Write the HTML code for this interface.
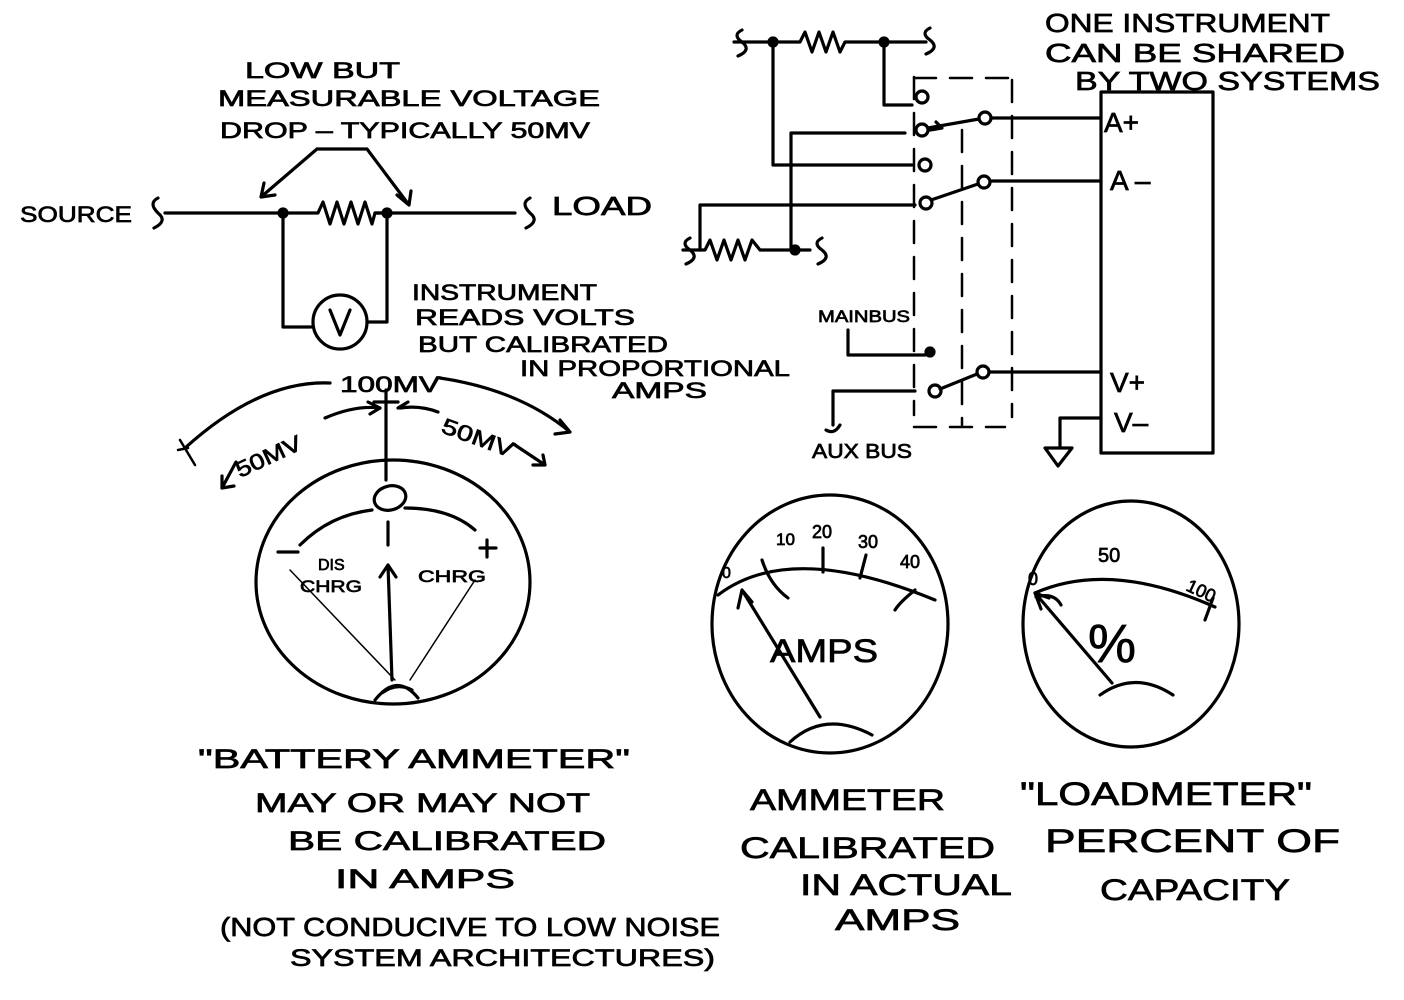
<!DOCTYPE html>
<html><head><meta charset="utf-8"><style>
html,body{margin:0;padding:0;background:#fff;width:1404px;height:1000px;overflow:hidden}
svg{display:block}
text{font-family:"Liberation Sans",sans-serif;fill:#000;stroke:#000;stroke-width:0.7}
</style></head><body>
<svg width="1404" height="1000" viewBox="0 0 1404 1000" xmlns="http://www.w3.org/2000/svg">
<g fill="none" stroke="#000" stroke-width="3.2" stroke-linecap="round" stroke-linejoin="round">
<path d="M165 213 H283 M375 213 H515"/>
<path d="M283 213 L318 213 L323 202 L330 224 L337 202 L344 224 L351 202 L358 224 L365 202 L372 224 L375 213 H387"/>
<path d="M158 198 q-10 5 0 15 q10 8 -4 15"/>
<path d="M530 198 q-10 5 0 15 q10 8 -4 15"/>
<path d="M283 213 V327 H311 M387 213 V322 H368"/>
<circle cx="340" cy="322" r="27"/>
<path d="M330 310 L340 335 L350 310"/>
<path d="M317 149 H367 L409 205 M317 149 L261 197 M261 197 l3 -14 M261 197 l14 -2 M409 205 l-12 -10 M409 205 l2 -14"/>
<circle cx="283" cy="213" r="4" fill="#000"/><circle cx="387" cy="213" r="4" fill="#000"/>

<ellipse cx="393" cy="582" rx="137" ry="122"/>
<path d="M185 448 Q260 380 330 383 M440 378 Q520 390 570 432 M560 420 l10 12 l-15 2"/>
<path d="M222 488 L236 462 M222 488 l12 -2 M222 488 l0 -12"/>
<path d="M325 418 Q355 405 380 408 M380 408 l-12 -6 M380 408 l-10 6 M400 408 Q420 405 438 412 M398 408 l10 -6"/>
<path d="M515 445 L545 465 M545 465 l-12 0 M545 465 l-2 -10"/>
<path d="M386 390 V480"/>
<path d="M374 402 H398"/>
<ellipse cx="390" cy="498" rx="16" ry="12" transform="rotate(-15 390 498)"/>
<path d="M300 545 Q330 515 372 510 M405 508 Q450 508 475 530"/>
<path d="M388 522 V545"/>
<path d="M278 552 H298 M487 540 V557 M480 548 H496"/>
<path d="M392 680 L388 565 M388 565 l-8 12 M388 565 l8 12" />
<path d="M375 700 Q397 672 418 698 M382 693 Q397 682 412 690"/>
<path d="M290 570 L395 680 M475 580 L410 680" stroke-width="1.5"/>
<path d="M180 440 L195 465 M188 448 l-10 2" stroke-width="2.5"/>

<ellipse cx="830" cy="624" rx="118" ry="129"/>
<path d="M718 595 Q790 540 935 600"/>
<path d="M762 560 Q770 585 788 598 M823 548 V572 M866 555 L860 578 M915 590 Q900 602 895 610"/>
<path d="M820 717 L742 590 M742 590 l-4 18 M742 590 l10 12"/>
<path d="M790 742 Q825 710 872 735"/>
<ellipse cx="1131" cy="624" rx="108" ry="123"/>
<path d="M1035 593 Q1110 560 1215 607 M1213 598 L1205 620"/>
<path d="M1112 683 L1035 593 M1035 593 l6 16 M1035 593 l14 5"/>
<path d="M1100 695 Q1135 670 1173 695"/>
<path d="M1036 597 q18 -5 25 8"/>

<path d="M734 42 H800 L805 32 L812 52 L819 32 L826 52 L833 32 L840 52 L845 42 H926"/>
<path d="M742 30 q-10 5 0 12 q10 8 -4 14 M930 28 q-10 5 0 12 q10 8 -4 14"/>
<circle cx="773" cy="42" r="4" fill="#000"/><circle cx="884" cy="42" r="4" fill="#000"/>
<path d="M773 42 V165 H912 M884 42 V105 H912"/>
<circle cx="922" cy="97" r="6"/><circle cx="925" cy="165" r="6"/>
<path d="M791 133 V250 M791 133 H905"/>
<circle cx="922" cy="130" r="6"/><circle cx="985" cy="118" r="6"/>
<path d="M928 128 L979 119 M930 130 l12 -2 l-6 -6"/>
<path d="M991 118 H1101"/>
<path d="M700 205 H915 M700 205 V250"/>
<circle cx="926" cy="203" r="6"/><circle cx="984" cy="182" r="6"/>
<path d="M931 200 L978 184 M990 181 H1101"/>
<path d="M683 250 H705 L710 240 L717 260 L724 240 L731 260 L738 240 L745 260 L752 240 L760 250 H810"/>
<path d="M690 238 q-10 5 0 12 q10 8 -4 14 M822 238 q-10 5 0 12 q10 8 -4 14"/>
<circle cx="795" cy="250" r="4" fill="#000"/>
<path d="M848 330 V355 H925"/>
<circle cx="930" cy="352" r="4" fill="#000"/>
<circle cx="935" cy="391" r="6"/><circle cx="983" cy="372" r="6"/>
<path d="M940 389 L977 374 M989 372 H1101"/>
<path d="M915 391 H833 V425 M826 430 q8 5 14 -5"/>
<path d="M1101 92 H1213 V453 H1101 Z" />
<path d="M1101 418 H1060 V448 M1045 448 H1072 L1058 466 Z"/>
<g stroke-width="2.5" stroke-dasharray="22 14">
<path d="M914 77 V415"/><path d="M962 130 V425"/><path d="M1012 80 V417"/>
<path d="M914 78 H1012"/><path d="M914 427 H1005"/>
</g>
</g>

<g font-size="22">
<text x="245" y="78" textLength="155" lengthAdjust="spacingAndGlyphs">LOW BUT</text>
<text x="218" y="106" textLength="382" lengthAdjust="spacingAndGlyphs">MEASURABLE VOLTAGE</text>
<text x="220" y="138" textLength="370" lengthAdjust="spacingAndGlyphs">DROP – TYPICALLY 50MV</text>
<text x="20" y="222" textLength="112" lengthAdjust="spacingAndGlyphs">SOURCE</text>
<text x="552" y="215" font-size="26" textLength="100" lengthAdjust="spacingAndGlyphs">LOAD</text>
<text x="412" y="300" textLength="185" lengthAdjust="spacingAndGlyphs">INSTRUMENT</text>
<text x="415" y="325" textLength="220" lengthAdjust="spacingAndGlyphs">READS VOLTS</text>
<text x="418" y="352" textLength="250" lengthAdjust="spacingAndGlyphs">BUT CALIBRATED</text>
<text x="520" y="376" textLength="270" lengthAdjust="spacingAndGlyphs">IN PROPORTIONAL</text>
<text x="612" y="398" textLength="95" lengthAdjust="spacingAndGlyphs">AMPS</text>
<text x="340" y="392" textLength="100" lengthAdjust="spacingAndGlyphs">100MV</text>
<text x="240" y="478" transform="rotate(-25 240 478)" textLength="70" lengthAdjust="spacingAndGlyphs">50MV</text>
<text x="440" y="432" transform="rotate(20 440 432)" textLength="75" lengthAdjust="spacingAndGlyphs">50MV</text>
<text x="318" y="570" font-size="16">DIS</text>
<text x="300" y="592" font-size="17" textLength="62" lengthAdjust="spacingAndGlyphs">CHRG</text>
<text x="418" y="582" font-size="17" textLength="68" lengthAdjust="spacingAndGlyphs">CHRG</text>
<text x="198" y="768" font-size="27" textLength="432" lengthAdjust="spacingAndGlyphs">"BATTERY AMMETER"</text>
<text x="255" y="812" font-size="27" textLength="335" lengthAdjust="spacingAndGlyphs">MAY OR MAY NOT</text>
<text x="288" y="850" font-size="27" textLength="318" lengthAdjust="spacingAndGlyphs">BE CALIBRATED</text>
<text x="335" y="888" font-size="27" textLength="180" lengthAdjust="spacingAndGlyphs">IN AMPS</text>
<text x="220" y="936" font-size="26" textLength="500" lengthAdjust="spacingAndGlyphs">(NOT CONDUCIVE TO LOW NOISE</text>
<text x="290" y="966" font-size="24" textLength="425" lengthAdjust="spacingAndGlyphs">SYSTEM ARCHITECTURES)</text>
<text x="722" y="578" font-size="16">0</text>
<text x="776" y="545" font-size="17">10</text>
<text x="812" y="538" font-size="18">20</text>
<text x="858" y="548" font-size="18">30</text>
<text x="900" y="568" font-size="18">40</text>
<text x="770" y="662" font-size="32" textLength="108" lengthAdjust="spacingAndGlyphs">AMPS</text>
<text x="1028" y="585" font-size="18">0</text>
<text x="1098" y="562" font-size="20">50</text>
<text x="1185" y="590" font-size="18" transform="rotate(25 1185 590)">100</text>
<text x="1088" y="662" font-size="54">%</text>
<text x="750" y="810" font-size="30" textLength="195" lengthAdjust="spacingAndGlyphs">AMMETER</text>
<text x="740" y="858" font-size="30" textLength="255" lengthAdjust="spacingAndGlyphs">CALIBRATED</text>
<text x="800" y="895" font-size="30" textLength="212" lengthAdjust="spacingAndGlyphs">IN ACTUAL</text>
<text x="835" y="930" font-size="30" textLength="125" lengthAdjust="spacingAndGlyphs">AMPS</text>
<text x="1020" y="805" font-size="32" textLength="292" lengthAdjust="spacingAndGlyphs">"LOADMETER"</text>
<text x="1045" y="852" font-size="32" textLength="295" lengthAdjust="spacingAndGlyphs">PERCENT OF</text>
<text x="1100" y="900" font-size="30" textLength="190" lengthAdjust="spacingAndGlyphs">CAPACITY</text>
<text x="1045" y="32" font-size="26" textLength="285" lengthAdjust="spacingAndGlyphs">ONE INSTRUMENT</text>
<text x="1045" y="62" font-size="26" textLength="300" lengthAdjust="spacingAndGlyphs">CAN BE SHARED</text>
<text x="1075" y="90" font-size="26" textLength="305" lengthAdjust="spacingAndGlyphs">BY TWO SYSTEMS</text>
<text x="1104" y="132" font-size="28">A+</text>
<text x="1110" y="190" font-size="28">A –</text>
<text x="1110" y="392" font-size="28">V+</text>
<text x="1114" y="432" font-size="28">V–</text>
<text x="818" y="322" font-size="17" textLength="92" lengthAdjust="spacingAndGlyphs">MAINBUS</text>
<text x="812" y="458" font-size="20" textLength="100" lengthAdjust="spacingAndGlyphs">AUX BUS</text>
</g>
</svg>
</body></html>
